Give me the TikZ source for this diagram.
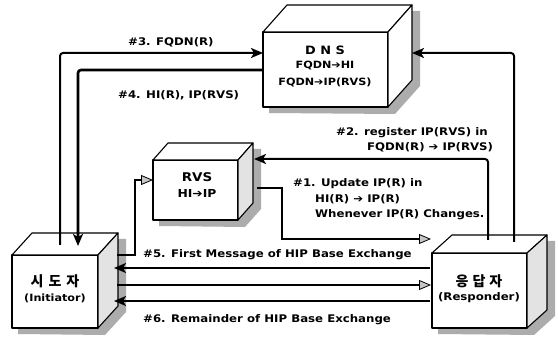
\documentclass[tikz,border=0pt]{standalone}
\usepackage{fontspec}
\setmainfont[FakeStretch=1.12]{DejaVu Sans}
\newfontfamily\kor{Noto Sans CJK KR}
\usetikzlibrary{arrows.meta}
\tikzset{
  face/.style={draw=black, line width=1.1pt, line join=round},
  conn/.style={line width=2pt, rounded corners=3pt},
  thick4/.style={line width=2.6pt, rounded corners=3pt},
  thinconn/.style={line width=1.1pt},
  blk/.style={-{Stealth[length=12pt,width=10pt,inset=3pt]}},
  gry/.style={-{Triangle[length=12pt,width=10pt,fill=gray!45,line width=0.8pt]}},
  lbl/.style={font=\bfseries\fontsize{10.5}{12}\selectfont, inner sep=0, anchor=west},
  ttl/.style={font=\bfseries\fontsize{10}{12}\selectfont, inner sep=0, align=center},
}
\newcommand\cubebox[8]{% name, x0, y0, x1, y1, dx, dy, right fill
  \fill[gray!65] (#2+6,#5+6) -- (#2+6,#3+6) -- (#2+#6+7,#3-#7+6) -- (#4+#6+8,#3-#7+6)
     -- (#4+#6+8,#5-#7+6) -- (#4+7,#5+7) -- cycle;
  \pgfmathsetmacro\cw{#4-#2}\pgfmathsetmacro\ch{#5-#3}
  \node[face, fill=white, anchor=north west, minimum width=\cw pt, minimum height=\ch pt,
        inner sep=0, outer sep=0] (#1) at (#2,#3) {};
  \draw[face, fill=white] (#2,#3) -- (#2+#6,#3-#7) -- (#4+#6,#3-#7) -- (#4,#3) -- cycle;
  \draw[face, fill=#8] (#4,#3) -- (#4+#6,#3-#7) -- (#4+#6,#5-#7) -- (#4,#5) -- cycle;
}
\begin{document}
\begin{tikzpicture}[x=1pt,y=-1pt]
\useasboundingbox[fill=white] (0,0) rectangle (558,339);

% boxes
\cubebox{dns}{263}{32}{388}{107}{24}{27}{white}
\cubebox{rvs}{153}{160}{238}{220}{15}{17}{gray!22}
\cubebox{ini}{12}{255}{98}{328}{20}{22}{gray!22}
\cubebox{res}{432}{253}{527}{328}{20}{18}{gray!22}

% box texts
\node[ttl, font=\bfseries\fontsize{11.5}{12}\selectfont] (dnst) at (325,50) {D N S};
\node[ttl, font=\bfseries\fontsize{10}{12}\selectfont] (dnsa) at (325,66) {FQDN➔HI};
\node[ttl, font=\bfseries\fontsize{10}{12}\selectfont] (dnsb) at (325,82) {FQDN➔IP(RVS)};
\node[ttl, font=\bfseries\fontsize{12}{13}\selectfont] (rvst) at (197,177) {RVS};
\node[ttl, font=\bfseries\fontsize{11}{13}\selectfont] (rvsa) at (197,193) {HI➔IP};
\node[ttl, font=\kor\bfseries\fontsize{14}{15}\selectfont] (init) at (55,281) {시\hspace{5pt}도\hspace{5pt}자};
\node[ttl, font=\bfseries\fontsize{10}{12}\selectfont] (inia) at (55,298) {(Initiator)};
\node[ttl, font=\kor\bfseries\fontsize{14}{15}\selectfont] (rest) at (479,281) {응\hspace{4pt}답\hspace{4pt}자};
\node[ttl, font=\bfseries\fontsize{10.5}{12}\selectfont] (resa) at (479,298) {(Responder)};

% connection points
\coordinate (i3) at (60,245);
\coordinate (i4) at (78,246);
\coordinate (d3) at (263,53);
\coordinate (d4) at (263,70);
\coordinate (d2) at (412,53);
\coordinate (r2) at (514,242);
\coordinate (r1) at (488,240);
\coordinate (v1) at (254,159);
\coordinate (v2) at (257,188);
\coordinate (k1) at (282,239);
\coordinate (r5) at (431,239);
\coordinate (i5) at (117,255);
\coordinate (k2) at (135,255);
\coordinate (vin) at (153,180);
\coordinate (ra) at (430,268);
\coordinate (ia) at (114,268);
\coordinate (ib) at (117,285);
\coordinate (rb) at (431,285);
\coordinate (rc) at (430,301);
\coordinate (ic) at (114,301);

% connectors
\draw[conn, blk] (i3) |- (d3);
\draw[thick4, blk] (d4) -| (i4);
\draw[conn, blk] (r2) |- (d2);
\draw[conn, blk] (r1) |- (v1);
\draw[thinconn, gry] (v2) -| (k1) -- (r5);
\draw[thinconn, gry] (i5) -- (k2) |- (vin);
\draw[conn, blk] (ra) -- (ia);
\draw[conn, gry] (ib) -- (rb);
\draw[conn, blk] (rc) -- (ic);

% labels
\node[lbl] (l3) at (128,42) {\#3. FQDN(R)};
\node[lbl] (l4) at (118,95) {\#4. HI(R), IP(RVS)};
\node[lbl] (l2a) at (336,133) {\#2. register IP(RVS) in};
\node[lbl] (l2b) at (367,147) {FQDN(R) ➔ IP(RVS)};
\node[lbl] (l1a) at (293,184) {\#1. Update IP(R) in};
\node[lbl] (l1b) at (315,199) {HI(R) ➔ IP(R)};
\node[lbl] (l1c) at (315,215) {Whenever IP(R) Changes.};
\node[lbl] (l5) at (143,255) {\#5. First Message of HIP Base Exchange};
\node[lbl] (l6) at (143,320) {\#6. Remainder of HIP Base Exchange};
\end{tikzpicture}
\end{document}
